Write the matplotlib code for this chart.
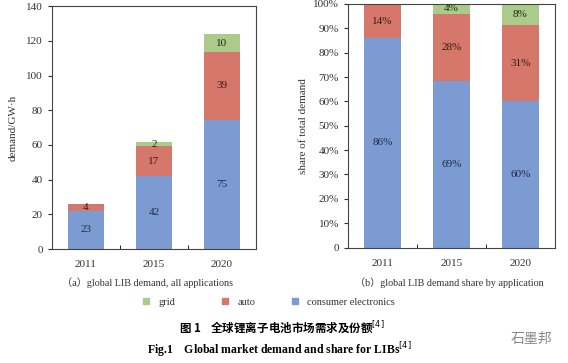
import matplotlib
matplotlib.use('Agg')
import matplotlib.pyplot as plt
import numpy as np

years = ['2011', '2015', '2020']

# demand, GW*h (bar heights)
consumer = [22, 42.2, 74.5]
auto = [4, 17, 39]
grid = [0, 2.3, 10.5]
consumer_lbl = ['23', '42', '75']
auto_lbl = ['4', '17', '39']
grid_lbl = ['', '2', '10']

# share of total demand, %
consumer_pct = [86, 68.5, 60]
auto_pct = [14, 27.5, 31.5]
grid_pct = [0, 4, 8.5]
consumer_pct_lbl = ['86%', '69%', '60%']
auto_pct_lbl = ['14%', '28%', '31%']
grid_pct_lbl = ['', '4%', '8%']

c_blue = '#7d9bd3'
c_red = '#d6776c'
c_green = '#aacb8a'

plt.rcParams['font.family'] = ['Liberation Serif', 'Noto Sans CJK SC']
plt.rcParams['font.size'] = 8

fig = plt.figure(figsize=(5.68, 3.63), dpi=100)
ax1 = fig.add_axes([0.0915, 0.314, 0.359, 0.669])
ax2 = fig.add_axes([0.6127, 0.318, 0.3644, 0.671])

x = np.arange(len(years))


def stacked(ax, a, b, c, la, lb, lc, width):
    ax.bar(x, a, width, color=c_blue)
    ax.bar(x, b, width, bottom=a, color=c_red)
    bot = np.array(a) + np.array(b)
    ax.bar(x, c, width, bottom=bot, color=c_green)
    for i in range(len(x)):
        ax.text(x[i], a[i] / 2, la[i], ha='center', va='center', color='#1f2a44', fontsize=8)
        ax.text(x[i], a[i] + b[i] / 2, lb[i], ha='center', va='center', color='#3a1a14', fontsize=8)
        if lc[i]:
            ax.text(x[i], bot[i] + c[i] / 2, lc[i], ha='center', va='center', color='#1f2a14', fontsize=8)
    ax.set_xticks(x)
    ax.set_xticklabels(years)
    ax.set_xticks([0.5, 1.5], minor=True)
    ax.set_xlim(-0.5, 2.5)
    ax.tick_params(axis='x', which='major', length=0, pad=8)
    ax.tick_params(axis='x', which='minor', direction='in', length=3)
    ax.tick_params(axis='y', direction='out', length=3, colors='#333333')
    ax.tick_params(axis='x', colors='#333333')
    for s in ax.spines.values():
        s.set_color('#444444')
        s.set_linewidth(0.8)


stacked(ax1, consumer, auto, grid, consumer_lbl, auto_lbl, grid_lbl, 0.53)
ax1.set_ylim(0, 140)
ax1.set_yticks(range(0, 141, 20))
ax1.set_ylabel('demand/GW·h', color='#333333', labelpad=6)

stacked(ax2, consumer_pct, auto_pct, grid_pct, consumer_pct_lbl, auto_pct_lbl, grid_pct_lbl, 0.55)
ax2.set_ylim(0, 100)
ax2.set_yticks(range(0, 101, 10))
ax2.set_yticklabels(['0'] + ['%d%%' % v for v in range(10, 101, 10)])
ax2.set_ylabel('share of total demand', color='#333333')

fig.text(0.259, 0.22, '（a）global LIB demand, all applications', ha='center', va='center',
         fontsize=7.3, color='#333333')
fig.text(0.792, 0.22, '（b）global LIB demand share by application', ha='center', va='center',
         fontsize=7.3, color='#333333')

# legend, one entry each so the spacing follows the reference
names = ['grid', 'auto', 'consumer electronics']
cols = [c_green, c_red, c_blue]
xs = [0.252, 0.391, 0.514]
for nm, col, xx in zip(names, cols, xs):
    h = plt.Rectangle((0, 0), 1, 1, color=col)
    fig.legend([h], [nm], loc='center left', bbox_to_anchor=(xx, 0.167), frameon=False,
               fontsize=7.5, handlelength=0.55, handleheight=0.55, handletextpad=0.9,
               borderpad=0, borderaxespad=0, labelcolor='#333333')

fig.text(0.497, 0.098, '图 1    全球锂离子电池市场需求及份额$^{[4]}$', ha='center', va='center',
         fontsize=8.3, fontweight='bold', family=['Noto Sans CJK SC', 'DejaVu Sans'])
fig.text(0.492, 0.038, 'Fig.1    Global market demand and share for LIBs$^{[4]}$', ha='center',
         va='center', fontsize=8.5, fontweight='bold')
fig.text(0.935, 0.066, '石墨邦', ha='center', va='center', fontsize=10, color='#888888',
         family=['Noto Sans CJK SC', 'DejaVu Sans'])

fig.savefig('out.png', dpi=100)
